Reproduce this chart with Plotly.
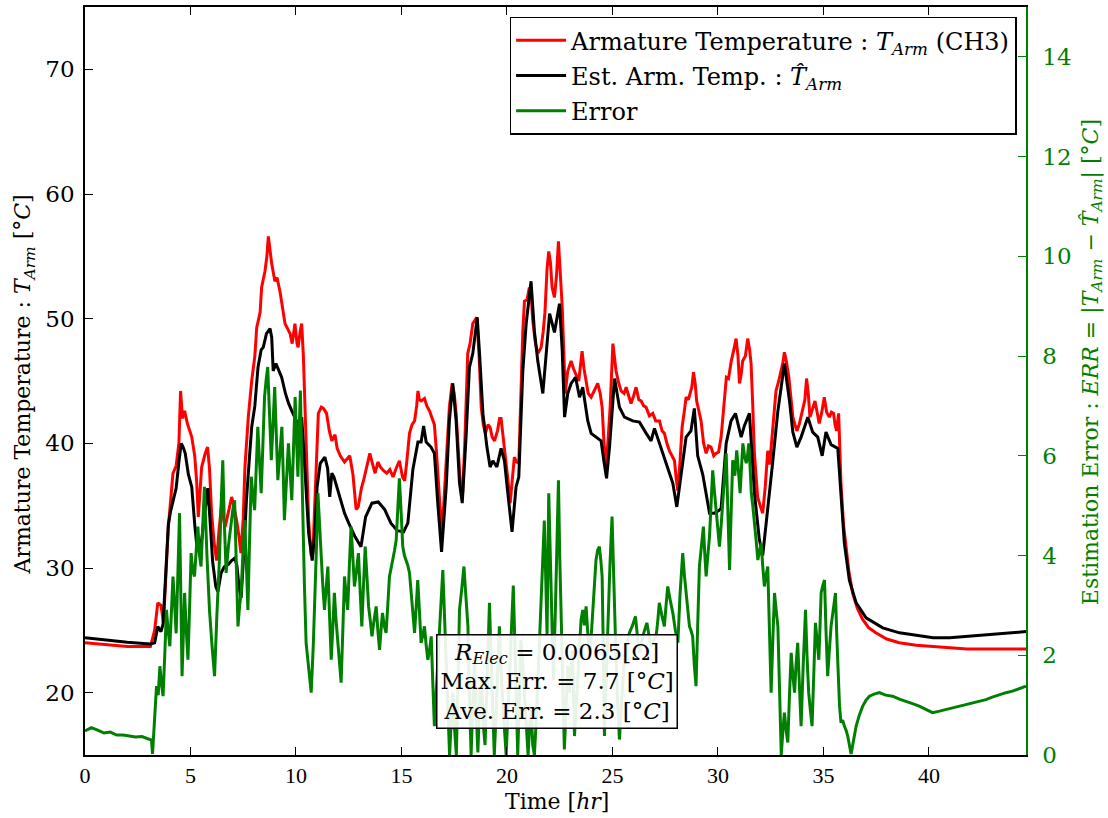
import plotly.graph_objects as go

# ---- measured armature temperature (CH3), deg C ----
t_meas = [0, 1, 2, 3.1, 3.3, 3.45, 3.6, 3.72, 3.85, 3.95, 4.17, 4.32, 4.45, 4.53, 4.62, 4.72, 4.85,
          5.06, 5.2, 5.29, 5.37, 5.45, 5.53, 5.7, 5.81, 5.9, 6.0, 6.12, 6.24, 6.35, 6.48, 6.56, 6.64,
          6.8, 6.95, 7.05, 7.19, 7.3, 7.39, 7.5, 7.58, 7.74, 7.9, 8.05, 8.14, 8.3, 8.37, 8.53, 8.62,
          8.69, 8.77, 8.85, 9.0, 9.1, 9.24, 9.35, 9.48, 9.6, 9.72, 9.82, 9.95, 10.05, 10.1, 10.2,
          10.27, 10.35, 10.43, 10.52, 10.6, 10.72, 10.8, 10.9, 11.06, 11.2, 11.3, 11.45, 11.58, 11.7,
          11.85, 11.95, 12.1, 12.3, 12.45, 12.55, 12.7, 12.85, 12.95, 13.1, 13.2, 13.35, 13.5, 13.62,
          13.75, 13.88, 14.0, 14.15, 14.3, 14.45, 14.6, 14.75, 14.9, 15.05, 15.15, 15.25, 15.38, 15.5,
          15.62, 15.72, 15.78, 15.85, 15.93, 16.09, 16.2, 16.33, 16.45, 16.56, 16.65, 16.72, 16.82,
          16.9, 17.0, 17.1, 17.2, 17.27, 17.4, 17.5, 17.59, 17.7, 17.78, 17.9, 18.0, 18.14, 18.25,
          18.38, 18.5, 18.57, 18.68, 18.78, 18.88, 18.98, 19.1, 19.2, 19.3, 19.41, 19.55, 19.65,
          19.72, 19.82, 19.93, 20.05, 20.15, 20.25, 20.35, 20.45, 20.56, 20.68, 20.75, 20.83, 20.95,
          21.06, 21.14, 21.22, 21.35, 21.46, 21.62, 21.72, 21.8, 21.9, 21.98, 22.06, 22.14, 22.25,
          22.35, 22.44, 22.52, 22.62, 22.7, 22.76, 22.88, 23.04, 23.15, 23.28, 23.4, 23.5, 23.56,
          23.65, 23.75, 23.85, 23.99, 24.15, 24.3, 24.42, 24.51, 24.6, 24.7, 24.8, 24.89, 25.02,
          25.1, 25.17, 25.3, 25.41, 25.55, 25.65, 25.77, 25.88, 26.0, 26.12, 26.25, 26.36, 26.48,
          26.59, 26.75, 26.91, 27.05, 27.23, 27.35, 27.46, 27.58, 27.7, 27.82, 27.94, 28.02, 28.1,
          28.2, 28.3, 28.4, 28.49, 28.6, 28.68, 28.76, 28.84, 28.92, 28.99, 29.1, 29.2, 29.32, 29.44,
          29.55, 29.67, 29.8, 29.91, 30.03, 30.15, 30.28, 30.4, 30.5, 30.63, 30.75, 30.86, 30.95,
          31.02, 31.1, 31.17, 31.3, 31.41, 31.5, 31.57, 31.65, 31.72, 31.8, 31.88, 32.0, 32.12,
          32.24, 32.36, 32.45, 32.55, 32.65, 32.75, 32.88, 32.99, 33.08, 33.15, 33.25, 33.36, 33.45,
          33.55, 33.65, 33.74, 33.85, 33.93, 34.05, 34.12, 34.2, 34.28, 34.36, 34.48, 34.6, 34.7,
          34.8, 34.92, 35.04, 35.15, 35.28, 35.38, 35.48, 35.55, 35.62, 35.72, 35.78, 35.83, 35.95,
          36.07, 36.2, 36.38, 36.6, 36.85, 37.15, 37.48, 38.0, 38.59, 39.4, 40.2, 41.0, 41.8, 42.6,
          43.4, 44.6]
temp_meas = [24.0, 23.85, 23.7, 23.7, 25.0, 27.2, 27.0, 25.6, 30.0, 33.3, 37.6, 38.2, 40.0, 44.2, 42.0,
             42.6, 41.6, 40.5, 39.0, 37.0, 34.1, 36.0, 38.1, 39.2, 39.7, 38.0, 34.4, 32.0, 30.6, 33.0,
             35.2, 34.0, 33.3, 34.5, 35.7, 35.0, 33.8, 32.5, 31.2, 34.0, 38.1, 42.1, 45.0, 47.0, 49.3,
             50.5, 52.5, 53.8, 55.0, 56.6, 55.5, 54.4, 53.0, 53.3, 52.2, 51.0, 49.6, 49.2, 48.8, 48.0,
             49.6, 48.0, 47.7, 49.0, 49.6, 47.0, 41.8, 38.0, 33.8, 31.0, 31.2, 36.0, 42.4, 42.9, 42.8,
             42.4, 41.0, 40.2, 40.7, 39.6, 39.0, 38.5, 38.8, 39.0, 37.5, 34.7, 34.9, 36.4, 37.0, 38.2,
             39.2, 38.4, 37.6, 38.5, 38.1, 37.8, 37.6, 37.9, 37.3, 38.0, 38.6, 37.3, 37.0, 38.5, 40.8,
             41.5, 41.8, 43.0, 44.2, 43.5, 43.4, 43.6, 43.0, 42.6, 42.0, 41.5, 39.5, 37.6, 35.0, 33.0,
             35.0, 37.6, 40.5, 42.9, 44.8, 44.0, 42.4, 39.5, 37.0, 36.0, 40.0, 47.2, 48.0, 49.6, 50.0,
             50.1, 47.0, 42.9, 41.5, 40.8, 41.5, 41.3, 40.5, 40.2, 41.0, 42.0, 42.0, 40.5, 39.2, 37.0,
             35.2, 37.0, 38.9, 38.5, 38.4, 45.0, 49.0, 51.4, 51.5, 52.5, 52.0, 49.9, 48.0, 47.2, 47.7,
             49.0, 50.5, 54.0, 55.4, 54.5, 52.5, 51.7, 53.5, 56.2, 54.0, 50.9, 47.0, 44.0, 45.8, 46.6,
             46.0, 45.5, 45.0, 46.5, 47.4, 46.0, 44.8, 44.0, 43.7, 44.3, 44.8, 44.0, 42.9, 40.0, 38.1,
             40.5, 42.9, 48.0, 47.0, 45.8, 44.8, 44.2, 44.0, 44.5, 43.8, 43.2, 43.8, 44.5, 43.5, 43.4,
             43.0, 42.9, 42.2, 42.4, 41.8, 41.8, 41.0, 40.8, 40.0, 39.4, 39.0, 38.6, 37.2, 36.2, 38.5,
             41.3, 42.5, 43.7, 43.5, 44.0, 44.5, 45.7, 44.8, 43.4, 42.5, 41.8, 40.0, 39.2, 39.8, 39.7,
             39.0, 39.2, 39.3, 40.5, 43.0, 45.3, 45.2, 46.6, 47.5, 48.4, 47.0, 44.8, 45.5, 46.6, 47.0,
             48.4, 47.5, 46.4, 43.0, 39.4, 37.5, 35.7, 35.0, 34.4, 36.5, 39.4, 38.3, 40.5, 42.5, 44.2,
             45.0, 45.8, 46.5, 47.3, 46.5, 45.3, 43.5, 42.1, 41.5, 41.0, 41.5, 42.1, 43.0, 43.5, 45.2,
             44.0, 42.1, 42.8, 43.4, 42.5, 41.6, 42.5, 43.7, 42.5, 42.1, 42.5, 42.4, 41.5, 41.0, 42.4,
             40.0, 36.8, 33.5, 31.5, 29.8, 28.0, 26.8, 25.9, 25.2, 24.8, 24.3, 24.0, 23.8, 23.7, 23.6,
             23.5, 23.5, 23.5, 23.5]

# ---- estimated armature temperature, deg C ----
t_est = [0, 1, 2, 3.1, 3.3, 3.45, 3.6, 3.7, 3.85, 3.95, 4.05, 4.17, 4.32, 4.45, 4.56, 4.65, 4.75, 4.9,
         5.06, 5.2, 5.3, 5.43, 5.55, 5.68, 5.82, 5.92, 6.05, 6.2, 6.3, 6.45, 6.6, 6.8, 6.95, 7.1, 7.2,
         7.3, 7.4, 7.52, 7.65, 7.8, 7.9, 8.05, 8.2, 8.35, 8.45, 8.6, 8.77, 8.85, 8.92, 9.05, 9.15,
         9.32, 9.5, 9.65, 9.8, 9.95, 10.1, 10.2, 10.27, 10.35, 10.45, 10.6, 10.77, 10.9, 11.0, 11.15,
         11.37, 11.5, 11.6, 11.7, 11.8, 12.0, 12.3, 12.5, 12.8, 13.08, 13.3, 13.6, 13.9, 14.2, 14.5,
         14.8, 15.1, 15.3, 15.54, 15.78, 15.93, 16.05, 16.17, 16.4, 16.56, 16.72, 16.9, 17.12, 17.27,
         17.43, 17.59, 17.75, 17.88, 18.06, 18.22, 18.38, 18.59, 18.7, 18.86, 19.05, 19.2, 19.33,
         19.52, 19.72, 19.88, 20.04, 20.24, 20.43, 20.56, 20.75, 20.91, 21.14, 21.3, 21.46, 21.7,
         21.86, 22.02, 22.25, 22.49, 22.62, 22.73, 22.88, 23.04, 23.25, 23.44, 23.59, 23.83, 23.99,
         24.22, 24.46, 24.6, 24.72, 24.86, 25.1, 25.33, 25.57, 25.96, 26.28, 26.6, 26.83, 26.99,
         27.23, 27.54, 27.86, 28.05, 28.25, 28.49, 28.72, 28.88, 29.04, 29.28, 29.6, 29.83, 30.04,
         30.15, 30.39, 30.62, 30.83, 31.1, 31.25, 31.49, 31.73, 31.96, 32.12, 32.36, 32.57, 32.84,
         33.15, 33.39, 33.55, 33.74, 33.94, 34.26, 34.49, 34.73, 34.94, 35.12, 35.36, 35.68, 35.84,
         35.99, 36.23, 36.55, 37.02, 37.81, 38.6, 39.4, 40.2, 40.98, 41.77, 42.56, 43.35, 44.6]
temp_est = [24.4, 24.2, 24.05, 23.9, 24.0, 25.3, 24.9, 25.5, 30.5, 33.5, 34.5, 35.3, 36.4, 38.5, 40.0,
            39.7, 39.2, 37.5, 36.5, 33.5, 31.8, 31.2, 32.5, 34.5, 36.4, 34.0, 30.5, 28.5, 28.1, 29.6,
            30.1, 30.3, 30.6, 30.8, 30.2, 28.5, 27.6, 31.0, 35.4, 39.0, 41.3, 43.0, 46.1, 47.5, 47.7,
            48.8, 49.2, 48.5, 45.8, 46.4, 46.0, 45.3, 44.0, 43.2, 42.6, 42.1, 41.5, 41.0, 42.1, 40.0,
            37.3, 32.8, 30.6, 33.0, 36.5, 38.4, 38.9, 38.0, 35.7, 37.6, 37.3, 36.2, 34.4, 33.6, 32.5,
            31.7, 34.1, 35.2, 35.3, 34.7, 33.6, 33.0, 32.9, 33.6, 37.9, 40.1, 40.1, 41.4, 40.1, 39.7,
            39.2, 35.2, 31.3, 36.5, 41.8, 44.8, 41.8, 36.8, 35.2, 40.5, 46.1, 47.2, 50.1, 47.2, 42.4,
            39.7, 38.1, 38.6, 38.1, 39.6, 38.6, 36.0, 32.9, 36.5, 37.3, 45.8, 49.6, 53.0, 49.0, 46.6,
            44.0, 47.2, 50.4, 48.9, 51.2, 47.4, 42.1, 44.0, 44.8, 45.3, 43.7, 44.5, 41.8, 40.8, 40.5,
            40.2, 38.5, 37.2, 39.7, 45.2, 42.9, 42.1, 41.8, 41.7, 40.8, 40.2, 41.2, 40.0, 38.4, 36.8,
            34.9, 37.6, 40.5, 41.0, 42.8, 39.0, 37.5, 34.4, 34.4, 34.6, 34.8, 40.0, 41.8, 42.4, 40.5,
            41.4, 42.4, 36.0, 32.3, 31.0, 34.6, 38.1, 42.6, 46.4, 43.4, 40.9, 39.7, 40.5, 42.1, 40.9,
            40.5, 39.0, 40.9, 39.9, 39.6, 36.0, 32.0, 29.0, 27.2, 26.0, 25.2, 24.8, 24.6, 24.4, 24.4,
            24.5, 24.6, 24.7, 24.9]

# ---- estimation error |T_Arm - T_hat_Arm|, deg C ----
t_err = [0, 0.3, 0.6, 0.9, 1.2, 1.5, 1.8, 2.1, 2.4, 2.7, 3.0, 3.15, 3.2, 3.3, 3.39, 3.47, 3.55, 3.62,
         3.7, 3.78, 3.86, 3.94, 4.02, 4.1, 4.17, 4.25, 4.32, 4.4, 4.48, 4.55, 4.6, 4.66, 4.72, 4.8,
         4.88, 4.96, 5.03, 5.1, 5.19, 5.27, 5.35, 5.43, 5.5, 5.58, 5.66, 5.78, 5.9, 6.02, 6.14, 6.25,
         6.37, 6.45, 6.53, 6.6, 6.69, 6.8, 6.93, 7.0, 7.09, 7.17, 7.25, 7.33, 7.4, 7.48, 7.57, 7.65,
         7.72, 7.8, 7.88, 7.96, 8.04, 8.12, 8.19, 8.27, 8.35, 8.43, 8.51, 8.58, 8.66, 8.75, 8.83,
         8.91, 8.99, 9.07, 9.14, 9.23, 9.33, 9.4, 9.45, 9.55, 9.64, 9.72, 9.8, 9.88, 9.96, 10.03,
         10.09, 10.15, 10.21, 10.27, 10.32, 10.4, 10.48, 10.6, 10.72, 10.82, 10.91, 10.98, 11.04,
         11.12, 11.19, 11.27, 11.35, 11.43, 11.51, 11.59, 11.67, 11.75, 11.82, 11.9, 11.98, 12.06,
         12.14, 12.22, 12.3, 12.38, 12.45, 12.53, 12.61, 12.69, 12.77, 12.87, 12.96, 13.04, 13.12,
         13.2, 13.28, 13.36, 13.44, 13.52, 13.6, 13.7, 13.8, 13.88, 13.96, 14.03, 14.1, 14.18,
         14.27, 14.35, 14.43, 14.51, 14.59, 14.67, 14.75, 14.82, 14.9, 14.98, 15.06, 15.14, 15.22,
         15.3, 15.38, 15.5, 15.62, 15.7, 15.77, 15.85, 15.93, 16.01, 16.09, 16.17, 16.25, 16.33,
         16.41, 16.48, 16.56, 16.64, 16.72, 16.84, 16.96, 17.04, 17.12, 17.2, 17.28, 17.35, 17.43,
         17.52, 17.6, 17.68, 17.75, 17.85, 17.96, 18.05, 18.15, 18.22, 18.3, 18.38, 18.46, 18.54,
         18.62, 18.72, 18.8, 18.88, 18.96, 19.06, 19.17, 19.28, 19.4, 19.52, 19.64, 19.75, 19.86,
         19.96, 20.08, 20.18, 20.3, 20.4, 20.51, 20.6, 20.66, 20.75, 20.83, 20.92, 21.0, 21.08,
         21.15, 21.22, 21.3, 21.4, 21.5, 21.6, 21.7, 21.77, 21.84, 21.9, 21.98, 22.06, 22.12, 22.2,
         22.3, 22.37, 22.44, 22.5, 22.57, 22.65, 22.72, 22.8, 22.88, 22.96, 23.04, 23.1, 23.2, 23.3,
         23.43, 23.51, 23.59, 23.67, 23.75, 23.83, 23.91, 23.98, 24.06, 24.14, 24.22, 24.3, 24.38,
         24.45, 24.51, 24.57, 24.62, 24.7, 24.78, 24.88, 24.98, 25.07, 25.17, 25.25, 25.33, 25.45,
         25.57, 25.68, 25.8, 25.95, 26.09, 26.18, 26.28, 26.45, 26.63, 26.73, 26.83, 26.95, 27.07,
         27.15, 27.22, 27.34, 27.46, 27.54, 27.62, 27.74, 27.86, 27.98, 28.1, 28.2, 28.33, 28.41,
         28.49, 28.57, 28.65, 28.72, 28.8, 28.88, 28.96, 29.04, 29.12, 29.22, 29.31, 29.38, 29.44,
         29.52, 29.6, 29.67, 29.75, 29.83, 29.91, 29.99, 30.07, 30.15, 30.23, 30.31, 30.39, 30.47,
         30.55, 30.62, 30.7, 30.8, 30.89, 30.97, 31.05, 31.12, 31.18, 31.26, 31.34, 31.4, 31.46,
         31.52, 31.58, 31.65, 31.73, 31.81, 31.89, 31.97, 32.05, 32.12, 32.2, 32.28, 32.36, 32.44,
         32.52, 32.6, 32.68, 32.76, 32.84, 32.92, 33.0, 33.08, 33.15, 33.23, 33.31, 33.39, 33.47,
         33.55, 33.63, 33.7, 33.78, 33.86, 33.94, 34.04, 34.15, 34.22, 34.3, 34.38, 34.46, 34.54,
         34.62, 34.7, 34.78, 34.84, 34.89, 34.97, 35.05, 35.12, 35.2, 35.28, 35.36, 35.46, 35.57,
         35.63, 35.69, 35.76, 35.83, 35.91, 35.99, 36.07, 36.15, 36.23, 36.31, 36.43, 36.55, 36.7,
         36.86, 37.02, 37.18, 37.4, 37.65, 37.95, 38.28, 38.6, 38.91, 39.22, 39.54, 39.85, 40.17,
         40.5, 40.8, 41.1, 41.43, 41.75, 42.07, 42.4, 42.7, 43.0, 43.33, 43.65, 43.96, 44.25, 44.6]
err = [0.48, 0.55, 0.5, 0.44, 0.46, 0.4, 0.4, 0.38, 0.36, 0.37, 0.33, 0.3, 0.02, 0.8, 1.38, 1.2, 1.78,
       1.45, 1.18, 2.0, 2.91, 2.5, 2.18, 2.9, 3.58, 3.0, 2.44, 3.6, 4.85, 3.0, 1.58, 2.4, 3.25, 2.5,
       1.91, 3.0, 4.05, 3.7, 3.58, 4.1, 4.58, 4.0, 3.78, 4.6, 5.38, 4.0, 2.91, 2.2, 1.58, 2.8, 3.91,
       5.0, 5.91, 4.7, 3.65, 4.2, 4.71, 4.9, 5.11, 3.8, 2.58, 3.0, 3.25, 4.0, 4.71, 3.8, 2.91, 4.3,
       5.58, 5.2, 4.91, 5.8, 6.58, 5.9, 5.25, 6.2, 7.18, 7.5, 7.78, 6.8, 5.91, 6.6, 7.38, 6.4, 5.51,
       6.0, 6.58, 5.6, 4.71, 5.5, 6.25, 5.7, 5.11, 6.1, 7.18, 6.3, 5.58, 6.5, 7.31, 5.9, 4.58, 3.4,
       2.25, 1.7, 1.25, 2.2, 3.25, 4.3, 5.25, 4.6, 3.91, 3.4, 2.91, 3.3, 3.78, 2.8, 1.91, 2.6, 3.25,
       2.7, 2.25, 1.8, 1.45, 2.5, 3.58, 3.2, 2.91, 3.8, 4.58, 4.0, 3.38, 3.7, 4.05, 3.3, 2.58, 3.4,
       4.18, 3.6, 2.98, 2.7, 2.38, 2.7, 2.98, 2.5, 2.11, 2.5, 2.85, 2.6, 2.45, 3.0, 3.58, 3.75, 3.91,
       4.1, 4.31, 4.9, 5.55, 4.9, 4.18, 4.0, 3.91, 3.8, 3.65, 3.0, 2.45, 3.0, 3.51, 2.9, 2.25, 2.4,
       2.58, 2.2, 1.91, 2.1, 2.38, 1.5, 0.58, 1.2, 1.91, 2.8, 3.71, 2.8, 1.91, 1.0, 0.0, 0.6, 1.25,
       0.5, 0.0, 1.5, 2.91, 3.3, 3.78, 3.2, 2.58, 1.2, 0.0, 1.0, 1.91, 0.9, 0.05, 1.2, 1.5, 0.6, 0.2,
       1.5, 3.05, 1.5, 0.0, 1.2, 2.58, 1.4, 0.6, 0.0, 1.2, 2.2, 3.4, 1.8, 0.0, 1.3, 2.31, 1.8, 1.25,
       0.5, 0.0, 0.6, 0.9, 0.2, 0.0, 0.8, 1.8, 3.0, 3.78, 4.7, 3.5, 2.4, 5.25, 4.0, 3.2, 1.5, 3.0,
       4.2, 5.51, 4.0, 2.58, 1.2, 0.11, 0.9, 1.8, 1.25, 1.8, 2.1, 0.38, 1.2, 2.25, 2.7, 2.91, 2.6,
       2.98, 2.4, 1.91, 2.3, 2.78, 3.4, 3.91, 4.11, 4.18, 3.9, 3.58, 2.0, 0.38, 1.5, 2.58, 3.8, 4.78,
       3.3, 1.91, 1.0, 0.31, 1.2, 1.91, 2.2, 2.45, 2.6, 2.78, 2.4, 2.05, 2.4, 2.65, 2.4, 2.18, 2.3,
       2.38, 2.7, 3.05, 2.8, 2.58, 3.0, 3.38, 3.1, 2.85, 2.5, 2.25, 3.2, 4.05, 3.6, 3.25, 2.9, 2.58,
       2.5, 2.38, 1.8, 1.38, 2.6, 3.78, 4.2, 4.58, 4.0, 3.58, 4.0, 4.38, 5.0, 5.71, 5.3, 4.91, 4.5,
       4.18, 4.6, 5.05, 5.5, 6.05, 4.9, 3.71, 4.8, 5.91, 5.6, 6.11, 5.7, 5.25, 5.8, 6.25, 6.0, 5.85,
       6.0, 6.25, 5.8, 5.25, 5.0, 4.71, 4.3, 3.91, 4.1, 4.25, 3.8, 3.38, 3.6, 3.78, 2.5, 1.25, 2.3,
       3.25, 2.9, 2.58, 1.3, 0.0, 0.5, 0.85, 0.5, 0.25, 1.2, 2.05, 1.6, 1.25, 1.8, 2.25, 1.4, 0.58,
       1.8, 2.91, 2.0, 1.25, 0.9, 0.58, 1.6, 2.65, 2.3, 1.91, 2.6, 3.25, 3.4, 3.51, 2.5, 1.58, 2.1,
       2.58, 2.9, 3.25, 2.4, 1.58, 1.0, 0.65, 0.7, 0.58, 0.5, 0.38, 0.2, 0.02, 0.3, 0.58, 0.8, 0.98,
       1.1, 1.18, 1.22, 1.25, 1.2, 1.18, 1.12, 1.08, 1.03, 0.98, 0.92, 0.85, 0.88, 0.91, 0.94, 0.98,
       1.02, 1.05, 1.08, 1.11, 1.16, 1.21, 1.25, 1.28, 1.32, 1.38]

x_ticks = [0, 5, 10, 15, 20, 25, 30, 35, 40]
temp_ticks = [20, 30, 40, 50, 60, 70]
err_ticks = [0, 2, 4, 6, 8, 10, 12, 14]

GREEN = "#008000"
SERIF = "DejaVu Serif, serif"
NARROW = "Liberation Serif, serif"

fig = go.Figure()
fig.add_trace(go.Scatter(
    x=t_meas, y=temp_meas, mode="lines", line=dict(color="#ff0000", width=3),
    name="Armature Temperature : <i>T</i><sub><i>Arm</i></sub> (CH3)", legendgroup="a"))
fig.add_trace(go.Scatter(
    x=t_est, y=temp_est, mode="lines", line=dict(color="#000000", width=3),
    name="Est. Arm. Temp. : <i>T\u0302</i><sub><i>Arm</i></sub>", legendgroup="b"))
fig.add_trace(go.Scatter(
    x=t_err, y=err, mode="lines", line=dict(color=GREEN, width=3),
    name="Error", yaxis="y2", legendgroup="c"))

fig.update_layout(
    width=1108, height=818,
    margin=dict(l=85, r=82, t=5, b=63),
    paper_bgcolor="white", plot_bgcolor="white",
    showlegend=True,
    legend=dict(x=0.99, y=0.987, xanchor="right", yanchor="top",
                bgcolor="white", bordercolor="black", borderwidth=1.5,
                font=dict(family=SERIF, size=24, color="black"),
                tracegroupgap=1, itemwidth=50),
    xaxis=dict(range=[0, 44.6], tickvals=x_ticks, ticks="inside", ticklen=8,
               tickcolor="black", showline=True, linecolor="black", linewidth=1.5,
               mirror="ticks", showgrid=False, zeroline=False,
               tickfont=dict(family=NARROW, size=22, color="black")),
    yaxis=dict(range=[15, 75], tickvals=temp_ticks, ticks="inside", ticklen=8,
               tickcolor="black", showline=True, linecolor="black", linewidth=1.5,
               showgrid=False, zeroline=False, ticklabelstandoff=4,
               tickfont=dict(family=SERIF, size=23, color="black")),
    yaxis2=dict(range=[0, 15], tickvals=err_ticks, ticks="inside", ticklen=8,
                tickcolor=GREEN, showline=True, linecolor=GREEN, linewidth=1.5,
                overlaying="y", side="right", showgrid=False, zeroline=False,
                ticklabelstandoff=10,
                tickfont=dict(family=SERIF, size=23, color=GREEN)),
)

# axis titles
fig.add_annotation(text="Time [<i>hr</i>]", xref="paper", yref="paper", x=0.5016, y=-0.062,
                   xanchor="center", yanchor="middle", showarrow=False,
                   font=dict(family=SERIF, size=22, color="black"))
fig.add_annotation(text="Armature Temperature : <i>T</i><sub><i>Arm</i></sub> [°<i>C</i>]",
                   xref="paper", yref="paper", x=-0.064, y=0.495, textangle=-90,
                   xanchor="center", yanchor="middle", showarrow=False,
                   font=dict(family=SERIF, size=22, color="black"))
fig.add_annotation(text="Estimation Error : <i>ERR</i> = |<i>T</i><sub><i>Arm</i></sub> \u2212 "
                        "<i>T\u0302</i><sub><i>Arm</i></sub>| [°<i>C</i>]",
                   xref="paper", yref="paper", x=1.07, y=0.525, textangle=-90,
                   xanchor="center", yanchor="middle", showarrow=False,
                   font=dict(family=SERIF, size=22, color=GREEN))

# summary box
fig.add_annotation(text="<i>R</i><sub><i>Elec</i></sub> = 0.0065[\u03a9]<br>"
                        "Max. Err. = 7.7 [°<i>C</i>]<br>Ave. Err. = 2.3 [°<i>C</i>]",
                   xref="paper", yref="paper", x=0.5016, y=0.0987,
                   xanchor="center", yanchor="middle", showarrow=False, align="center",
                   bgcolor="rgba(255,255,255,0.9)", bordercolor="black", borderwidth=1.5,
                   borderpad=3, font=dict(family=SERIF, size=23, color="black"))

fig.write_html("out.html")
